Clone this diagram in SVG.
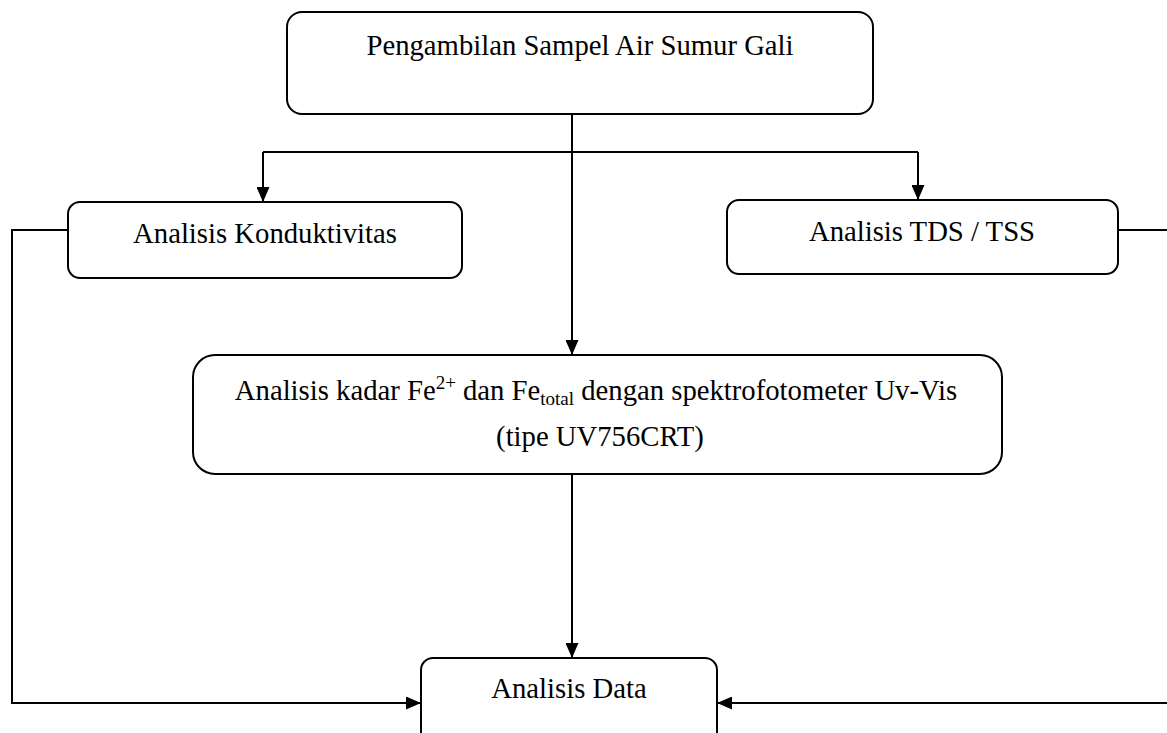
<svg xmlns="http://www.w3.org/2000/svg" width="1167" height="733" viewBox="0 0 1167 733">
<style>
.box{fill:#fff;stroke:#000;stroke-width:2}
.t{font-family:'Liberation Serif','Times New Roman',serif;font-size:28.7px;fill:#000;text-anchor:middle}
.s{font-size:19px}
.c{fill:none;stroke:#000;stroke-width:2}
</style>
<defs>
<marker id="ah" markerWidth="15" markerHeight="13" refX="15" refY="6.5" orient="auto" markerUnits="userSpaceOnUse">
<path d="M0,0 L15,6.5 L0,13 Z" fill="#000"/>
</marker>
</defs>
<rect width="1167" height="733" fill="#fff"/>
<g id="connectors">
<path class="c" d="M572,114 V355" marker-end="url(#ah)"/>
<path class="c" d="M263,152 H918"/>
<path class="c" d="M263,152 V202" marker-end="url(#ah)"/>
<path class="c" d="M918,152 V200" marker-end="url(#ah)"/>
<path class="c" d="M572,474 V658" marker-end="url(#ah)"/>
<path class="c" d="M68,230 H12 V703 H421" marker-end="url(#ah)"/>
<path class="c" d="M1118,230 H1175 V703 H717" marker-end="url(#ah)"/>
</g>
<g id="n1">
<rect class="box" x="287" y="12" width="586" height="102" rx="15"/>
<text class="t" font-family="Liberation Serif, Times New Roman, serif" x="580" y="55">Pengambilan Sampel Air Sumur Gali</text>
</g>
<g id="n2">
<rect class="box" x="68" y="202" width="394" height="76" rx="12"/>
<text class="t" font-family="Liberation Serif, Times New Roman, serif" x="265" y="243">Analisis Konduktivitas</text>
</g>
<g id="n3">
<rect class="box" x="727" y="200" width="391" height="74" rx="12"/>
<text class="t" font-family="Liberation Serif, Times New Roman, serif" x="922" y="241">Analisis TDS / TSS</text>
</g>
<g id="n4">
<rect class="box" x="193" y="355" width="809" height="119" rx="22"/>
<text class="t" font-family="Liberation Serif, Times New Roman, serif" x="596" y="400">Analisis kadar Fe<tspan class="s" dy="-11">2+</tspan><tspan dy="11"> dan Fe</tspan><tspan class="s" dy="5">total</tspan><tspan dy="-5"> dengan spektrofotometer Uv-Vis</tspan></text>
<text class="t" font-family="Liberation Serif, Times New Roman, serif" x="600" y="446">(tipe UV756CRT)</text>
</g>
<g id="n5">
<rect class="box" x="421" y="658" width="296" height="100" rx="12"/>
<text class="t" font-family="Liberation Serif, Times New Roman, serif" x="569" y="698">Analisis Data</text>
</g>
</svg>
